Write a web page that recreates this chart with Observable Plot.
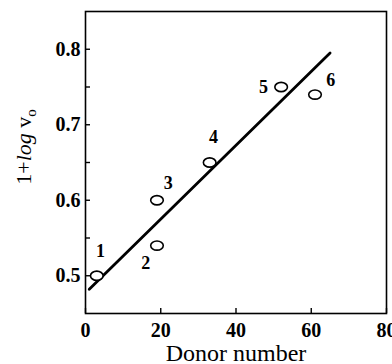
<!DOCTYPE html>
<html>
<head>
<meta charset="utf-8">
<script src="https://cdn.jsdelivr.net/npm/d3@7"></script>
<script src="https://cdn.jsdelivr.net/npm/@observablehq/plot@0.6"></script>
<style>
  body { margin: 0; background: #fff; }
  svg { overflow: visible; }
</style>
</head>
<body>
<div id="chart"></div>
<script>
// Data
const donorNumber = [3, 19, 19, 33, 52, 61];
const logV = [0.50, 0.54, 0.60, 0.65, 0.75, 0.74];
const pointIds = ["1", "2", "3", "4", "5", "6"];
// label anchor positions (data units)
const labelX = [4, 16, 22, 34, 47.3, 65.2];
const labelY = [0.532, 0.517, 0.622, 0.683, 0.750, 0.759];
// fitted line endpoints
const fitX = [1, 65];
const fitY = [0.482, 0.795];
const xTicks = [0, 20, 40, 60, 80];
const yTicks = [0.5, 0.6, 0.7, 0.8];
const yMinorTicks = [0.55, 0.65, 0.75];

const points = donorNumber.map((x, i) => ({x, y: logV[i]}));
const labels = pointIds.map((t, i) => ({x: labelX[i], y: labelY[i], t}));
const fit = fitX.map((x, i) => ({x, y: fitY[i]}));

const ellipse = {
  draw(ctx) {
    const rx = 6.3, ry = 4.6, k = 0.5523;
    ctx.moveTo(rx, 0);
    ctx.bezierCurveTo(rx, ry * k, rx * k, ry, 0, ry);
    ctx.bezierCurveTo(-rx * k, ry, -rx, ry * k, -rx, 0);
    ctx.bezierCurveTo(-rx, -ry * k, -rx * k, -ry, 0, -ry);
    ctx.bezierCurveTo(rx * k, -ry, rx, -ry * k, rx, 0);
    ctx.closePath();
  }
};

const serif = "'Liberation Serif', 'Times New Roman', serif";

const chart = Plot.plot({
  width: 392,
  height: 364,
  marginLeft: 85,
  marginRight: 6,
  marginTop: 11,
  marginBottom: 51,
  style: {fontFamily: serif, background: "#fff", color: "#000"},
  x: {domain: [0, 80]},
  y: {domain: [0.45, 0.85]},
  marks: [
    Plot.frame({stroke: "#000", strokeWidth: 1.6}),
    Plot.axisX(xTicks, {tickSize: -5, tickFormat: () => "", strokeWidth: 1.4, label: null}),
    Plot.axisX(xTicks, {tickSize: 0, tickPadding: 9, fontSize: 20, fontWeight: "bold", fontFamily: serif, tickFormat: d3.format("d"), label: null}),
    Plot.axisY(yTicks.concat(yMinorTicks), {tickSize: -5, tickFormat: () => "", strokeWidth: 1.4, label: null}),
    Plot.axisY(yTicks, {tickSize: 0, tickPadding: 5, fontSize: 20, fontWeight: "bold", fontFamily: serif, tickFormat: d3.format(".1f"), label: null}),
    Plot.line(fit, {x: "x", y: "y", stroke: "#000", strokeWidth: 2.8}),
    Plot.dot(points, {x: "x", y: "y", symbol: ellipse, stroke: "#000", strokeWidth: 1.6, fill: "#fff"}),
    Plot.text(labels, {x: "x", y: "y", text: "t", fontSize: 18, fontWeight: "bold", fontFamily: serif}),
    Plot.text(["Donor number"], {frameAnchor: "bottom", dy: 47, fontSize: 24, fontFamily: serif, lineAnchor: "bottom"})
  ]
});

document.getElementById("chart").appendChild(chart);

// y-axis title with italic "log" and subscript "o"
const svg = d3.select(chart);
const yt = svg.append("text")
  .attr("transform", "translate(31,147) rotate(-90)")
  .attr("text-anchor", "middle")
  .attr("font-family", serif)
  .attr("font-size", 22)
  .attr("fill", "#000");
yt.append("tspan").text("1+");
yt.append("tspan").attr("font-style", "italic").text("log");
yt.append("tspan").text(" v");
yt.append("tspan").attr("font-size", 15).attr("dy", 5).text("o");
</script>
</body>
</html>
